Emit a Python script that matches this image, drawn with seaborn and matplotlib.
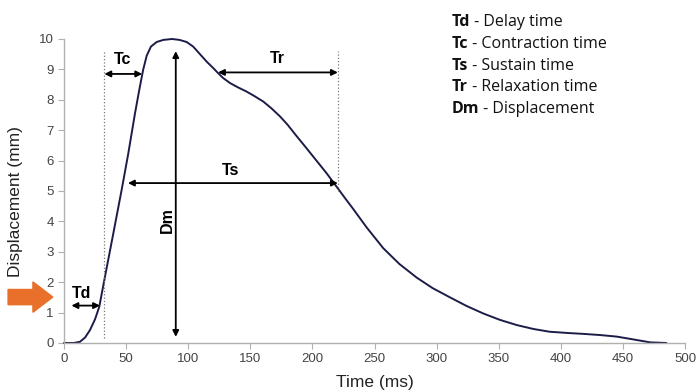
import matplotlib
matplotlib.use("Agg")
import matplotlib.pyplot as plt
from matplotlib.patches import FancyArrow
import pandas as pd
import seaborn as sns

# twitch response
time_ms = [0, 8, 12.9, 17, 21, 25, 28.4, 33, 39.7, 46.4, 51.8, 57.2, 60.5,
           63.7, 66.6, 70, 74.6, 80, 87, 93, 98.8, 104, 109.5, 115, 120, 124,
           128, 133.7, 140, 147, 153, 160.5, 167, 174, 180, 187, 194, 200.7,
           206, 211.5, 219.5, 226, 233, 243.7, 257, 270, 284, 297, 310.8, 324,
           337.6, 351, 364.5, 378, 391, 405, 418, 432, 445, 458, 472, 485]
disp_mm = [0, 0, 0.04, 0.18, 0.43, 0.78, 1.19, 2.18, 3.6, 5.03, 6.24, 7.56,
           8.3, 8.98, 9.45, 9.75, 9.9, 9.97, 10.0, 9.97, 9.9, 9.75, 9.5, 9.25,
           9.05, 8.88, 8.72, 8.55, 8.41, 8.27, 8.13, 7.94, 7.72, 7.45, 7.18,
           6.82, 6.47, 6.13, 5.86, 5.58, 5.14, 4.78, 4.4, 3.8, 3.12, 2.6, 2.15,
           1.8, 1.5, 1.22, 0.97, 0.76, 0.59, 0.46, 0.37, 0.33, 0.3, 0.26, 0.21,
           0.12, 0.02, 0]

# spans: (label, x0, x1, y)
spans = [("Td", 6, 29, 1.23), ("Tc", 32.5, 63, 8.85),
         ("Tr", 124, 220.5, 8.9), ("Ts", 51.5, 220.5, 5.26)]
span_label_pos = {"Td": (14.5, 1.64), "Tc": (47.5, 9.31), "Tr": (172, 9.37),
                  "Ts": (134, 5.69)}
dm_x, dm_lo, dm_hi = 90, 0.2, 9.6

legend_keys = ["Td", "Tc", "Ts", "Tr", "Dm"]
legend_desc = ["Delay time", "Contraction time", "Sustain time",
               "Relaxation time", "Displacement"]

sns.set_style("ticks")
plt.rcParams["font.family"] = ["Liberation Sans", "DejaVu Sans"]
plt.rcParams["text.color"] = "black"

df = pd.DataFrame({"Time (ms)": time_ms, "Displacement (mm)": disp_mm})

fig = plt.figure(figsize=(7, 3.91), dpi=100)
ax = fig.add_axes([0.0914, 0.1228, 0.8872, 0.7775])
sns.lineplot(data=df, x="Time (ms)", y="Displacement (mm)", ax=ax,
             color="#1c1c48", lw=1.4, clip_on=False,
             solid_joinstyle="round", solid_capstyle="round")

ax.set_xlim(0, 500)
ax.set_ylim(0, 10)
ax.set_xticks(range(0, 501, 50))
ax.set_yticks(range(0, 11))
sns.despine(ax=ax)
for s in ("left", "bottom"):
    ax.spines[s].set_color("#b0b0b0")
    ax.spines[s].set_linewidth(1.0)
ax.tick_params(colors="#b0b0b0", labelcolor="#444444", labelsize=9.5, length=4, width=0.8)
ax.set_xlabel("Time (ms)", fontsize=12.5, color="#222222")
ax.set_ylabel("Displacement (mm)", fontsize=12.5, color="#222222")
ax.xaxis.set_label_coords(0.5, -0.105)
ax.yaxis.set_label_coords(-0.066, 0.464)

# dotted guides
ax.plot([32.5, 32.5], [0.15, 9.6], ls=":", color="#777777", lw=0.9)
ax.plot([220.5, 220.5], [5.0, 9.6], ls=":", color="#777777", lw=0.9)

arrow_kw = dict(arrowstyle="<|-|>", color="black", lw=1.3, mutation_scale=9,
                shrinkA=0, shrinkB=0)
for lab, x0, x1, y in spans:
    ax.annotate("", xy=(x1, y), xytext=(x0, y), arrowprops=arrow_kw)
    tx, ty = span_label_pos[lab]
    ax.text(tx, ty, lab, fontsize=11.5, fontweight="bold", ha="center", va="center")

ax.annotate("", xy=(dm_x, dm_hi), xytext=(dm_x, dm_lo), arrowprops=arrow_kw)
ax.text(83, 4.05, "Dm", fontsize=11.5, fontweight="bold", rotation=90,
        ha="center", va="center")

# orange stimulus arrow outside the axes
ax.add_patch(FancyArrow(-45, 1.51, 36, 0, width=0.5, head_width=1.0,
                        head_length=16, length_includes_head=True,
                        color="#e8702a", clip_on=False))

# key at top right
for i, (k, d) in enumerate(zip(legend_keys, legend_desc)):
    y = 0.9335 - i * 0.0558
    t = fig.text(0.645, y, k, fontsize=11.5, fontweight="bold",
                 family=["Open Sans", "DejaVu Sans"], va="baseline", color="#111111")
    ax.annotate(" - " + d, xy=(1, 0), xycoords=t, va="bottom", ha="left",
                fontsize=11.5, family=["Open Sans", "DejaVu Sans"], color="#111111")

fig.savefig("out.png", dpi=100)
